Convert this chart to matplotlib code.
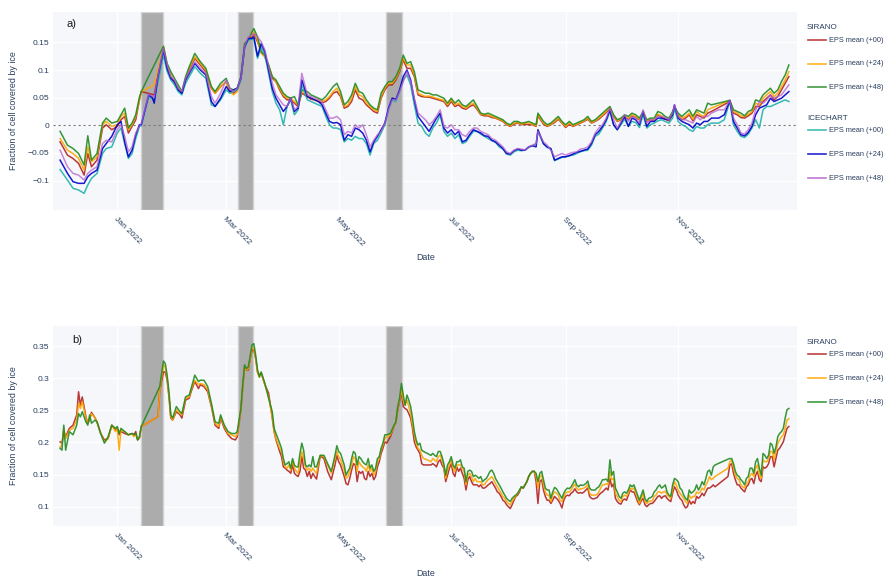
import numpy as np
import matplotlib
matplotlib.use("Agg")
import matplotlib.pyplot as plt
from matplotlib.lines import Line2D

plt.rcParams["font.family"] = ["Liberation Sans", "DejaVu Sans"]

nan = np.nan
BASE = np.datetime64("2022-01-01")

# ---------------- panel a) : days counted from 1 Jan 2022 ----------------
top_days = [
    -31, -27, -24, -21, -18, -16, -14, -11, -8, -6,
    -3, 0, 2, 4, 6, 8, 10, 12, 13, 15,
    17, 19, 20, 22, 25, 27, 29, 31, 33, 35,
    37, 39, 42, 45, 48, 51, 53, 56, 59, 61,
    63, 65, 67, 69, 71, 73, 74, 76, 78, 80,
    82, 84, 86, 88, 90, 92, 94, 96, 98, 100,
    103, 105, 107, 109, 111, 113, 115, 117, 119, 121,
    123, 125, 127, 129, 131, 133, 135, 137, 139, 141,
    143, 145, 147, 149, 151, 153, 155, 157, 159, 161,
    163, 165, 167, 169, 171, 173, 175, 177, 179, 181,
    183, 185, 187, 189, 191, 193, 195, 197, 199, 201,
    203, 205, 207, 209, 211, 213, 215, 217, 219, 221,
    223, 225, 227, 228, 231, 233, 235, 237, 239, 241,
    243, 245, 247, 249, 251, 253, 255, 257, 259, 261,
    263, 265, 267, 269, 271, 273, 275, 277, 279, 281,
    283, 285, 287, 289, 291, 293, 295, 297, 299, 301,
    302, 304, 306, 308, 310, 312, 314, 316, 318, 320,
    322, 326, 329, 332, 334, 336, 338, 340, 342, 344,
    346, 348, 350, 352, 354, 356, 358, 360, 362, 364,
]

sirano_a48 = [
    -0.011, -0.036, -0.042, -0.051, -0.072, -0.019, -0.063, -0.051, 0.004, 0.013,
    0.004, 0.007, 0.019, 0.031, -0.005, 0.004, 0.019, 0.051, 0.061, nan,
    nan, nan, nan, nan, 0.143, 0.112, 0.097, 0.085, 0.073, 0.061,
    0.088, 0.106, 0.130, 0.115, 0.103, 0.070, 0.061, 0.076, 0.085, 0.067,
    0.064, 0.067, 0.088, 0.148, 0.154, 0.169, 0.175, 0.160, 0.133, 0.127,
    0.109, 0.088, 0.082, 0.070, 0.058, 0.052, 0.049, 0.052, 0.037, 0.064,
    0.061, 0.055, 0.052, 0.049, 0.046, 0.052, 0.061, 0.070, 0.076, 0.061,
    0.037, 0.043, 0.055, 0.076, 0.061, 0.058, 0.046, 0.037, 0.031, 0.028,
    0.058, 0.070, 0.079, 0.079, 0.088, 0.103, 0.127, 0.112, 0.115, 0.097,
    0.064, 0.061, 0.058, 0.058, 0.055, 0.055, 0.052, 0.049, 0.040, 0.049,
    0.040, 0.046, 0.037, 0.034, 0.040, 0.046, 0.034, 0.022, 0.020, 0.022,
    0.019, 0.016, 0.013, 0.010, 0.004, 0.001, 0.007, 0.007, 0.004, 0.005,
    0.007, 0.004, 0.001, 0.022, 0.007, 0.001, 0.004, 0.010, 0.016, 0.007,
    0.001, 0.007, 0.001, 0.004, 0.007, 0.010, 0.016, 0.007, 0.010, 0.016,
    0.022, 0.028, 0.034, 0.019, 0.010, 0.013, 0.019, 0.016, 0.022, 0.019,
    0.013, 0.025, 0.010, 0.013, 0.013, 0.025, 0.022, 0.016, 0.013, 0.025,
    0.034, 0.022, 0.016, 0.022, 0.028, 0.016, 0.028, 0.025, 0.022, 0.040,
    0.037, nan, nan, 0.045, 0.028, 0.025, 0.022, 0.017, 0.025, 0.028,
    0.046, 0.043, 0.055, 0.061, 0.067, 0.058, 0.064, 0.079, 0.091, 0.109,
]

sirano_a24 = [
    -0.024, -0.045, -0.051, -0.060, -0.081, -0.039, -0.066, -0.057, 0.001, 0.007,
    -0.002, 0.001, 0.016, 0.022, -0.008, 0.001, 0.016, 0.046, 0.061, nan,
    nan, nan, 0.073, nan, 0.142, 0.109, 0.091, 0.079, 0.067, 0.058,
    0.085, 0.103, 0.124, 0.112, 0.100, 0.067, 0.058, 0.070, 0.079, 0.061,
    0.055, 0.061, 0.085, 0.145, 0.157, 0.163, 0.169, 0.154, 0.130, 0.124,
    0.109, 0.088, 0.079, 0.067, 0.055, 0.049, 0.049, 0.043, 0.037, 0.061,
    0.055, 0.049, 0.046, 0.046, 0.043, 0.046, 0.052, 0.061, 0.067, 0.055,
    0.034, 0.037, 0.049, 0.070, 0.055, 0.052, 0.040, 0.034, 0.028, 0.025,
    0.052, 0.067, 0.076, 0.076, 0.085, 0.100, 0.121, 0.109, 0.109, 0.091,
    0.058, 0.055, 0.052, 0.053, 0.051, 0.049, 0.047, 0.045, 0.037, 0.046,
    0.037, 0.040, 0.034, 0.031, 0.037, 0.040, 0.031, 0.020, 0.019, 0.019,
    0.016, 0.014, 0.011, 0.008, 0.002, -0.001, 0.004, 0.005, 0.002, 0.004,
    0.004, 0.002, -0.001, 0.019, 0.004, -0.001, 0.002, 0.007, 0.013, 0.005,
    -0.002, 0.004, -0.001, 0.002, 0.005, 0.008, 0.013, 0.005, 0.008, 0.013,
    0.019, 0.025, 0.033, 0.017, 0.008, 0.011, 0.017, 0.013, 0.019, 0.016,
    0.011, 0.023, 0.008, 0.011, 0.010, 0.020, 0.017, 0.013, 0.010, 0.022,
    0.031, 0.019, 0.013, 0.016, 0.022, 0.011, 0.025, 0.019, 0.016, 0.028,
    0.031, nan, nan, 0.045, 0.025, 0.022, 0.017, 0.016, 0.020, 0.025,
    0.040, 0.037, 0.049, 0.055, 0.061, 0.052, 0.058, 0.070, 0.082, 0.097,
]

sirano_a00 = [
    -0.030, -0.054, -0.060, -0.069, -0.090, -0.051, -0.075, -0.063, -0.005, 0.001,
    -0.008, -0.002, 0.010, 0.016, -0.014, -0.002, 0.010, 0.046, 0.061, nan,
    nan, nan, 0.055, nan, 0.141, 0.106, 0.089, 0.076, 0.067, 0.058,
    0.082, 0.100, 0.121, 0.109, 0.097, 0.067, 0.058, 0.070, 0.079, 0.061,
    0.058, 0.064, 0.085, 0.142, 0.157, 0.160, 0.166, 0.151, 0.133, 0.124,
    0.106, 0.085, 0.079, 0.064, 0.052, 0.046, 0.046, 0.040, 0.034, 0.058,
    0.052, 0.047, 0.046, 0.043, 0.041, 0.043, 0.049, 0.058, 0.061, 0.052,
    0.031, 0.034, 0.043, 0.064, 0.049, 0.046, 0.037, 0.031, 0.025, 0.022,
    0.049, 0.064, 0.073, 0.073, 0.082, 0.097, 0.118, 0.103, 0.103, 0.088,
    0.055, 0.052, 0.051, 0.051, 0.049, 0.047, 0.045, 0.043, 0.034, 0.043,
    0.034, 0.037, 0.031, 0.029, 0.034, 0.037, 0.029, 0.019, 0.017, 0.017,
    0.014, 0.013, 0.010, 0.007, 0.001, -0.002, 0.002, 0.004, 0.001, 0.002,
    0.001, 0.001, -0.002, 0.017, 0.002, -0.002, 0.001, 0.005, 0.011, 0.004,
    -0.004, 0.002, -0.002, 0.001, 0.004, 0.007, 0.011, 0.004, 0.007, 0.011,
    0.017, 0.023, 0.031, 0.016, 0.007, 0.010, 0.014, 0.011, 0.017, 0.014,
    0.010, 0.022, 0.007, 0.010, 0.008, 0.019, 0.014, 0.011, 0.008, 0.019,
    0.029, 0.017, 0.010, 0.013, 0.019, 0.008, 0.019, 0.016, 0.013, 0.022,
    0.025, nan, nan, 0.043, 0.022, 0.019, 0.014, 0.013, 0.017, 0.022,
    0.034, 0.034, 0.043, 0.049, 0.055, 0.046, 0.052, 0.064, 0.076, 0.088,
]

icechart_a48 = [
    -0.045, -0.075, -0.087, -0.090, -0.099, -0.087, -0.081, -0.075, -0.033, -0.027,
    -0.030, -0.008, 0.001, -0.020, -0.048, -0.039, -0.014, -0.002, 0.003, 0.030,
    0.056, 0.053, 0.050, 0.090, 0.139, 0.109, 0.088, 0.082, 0.067, 0.061,
    0.085, 0.097, 0.115, 0.103, 0.094, 0.052, 0.040, 0.058, 0.082, 0.067,
    0.061, 0.067, 0.085, 0.143, 0.160, 0.163, 0.166, 0.160, 0.151, 0.136,
    0.106, 0.076, 0.055, 0.046, 0.037, 0.034, 0.049, 0.028, 0.034, 0.094,
    0.055, 0.052, 0.049, 0.046, 0.043, 0.028, 0.013, 0.013, 0.016, 0.010,
    -0.017, -0.011, -0.014, 0.001, -0.005, 0.001, -0.017, -0.039, -0.027, -0.017,
    -0.011, 0.004, 0.028, 0.046, 0.046, 0.061, 0.079, 0.097, 0.079, 0.049,
    0.022, 0.016, 0.010, 0.001, 0.007, 0.016, 0.028, -0.002, -0.005, 0.001,
    -0.008, -0.008, -0.017, -0.020, -0.011, -0.005, -0.005, -0.011, -0.014, -0.017,
    -0.024, -0.027, -0.033, -0.039, -0.048, -0.051, -0.045, -0.042, -0.043, -0.045,
    -0.039, -0.036, -0.033, -0.011, -0.030, -0.036, -0.045, -0.057, -0.054, -0.051,
    -0.054, -0.051, -0.049, -0.048, -0.043, -0.042, -0.039, -0.030, -0.014, -0.005,
    0.001, 0.013, 0.031, 0.010, -0.005, 0.007, 0.019, 0.007, 0.016, 0.013,
    0.004, 0.028, 0.004, 0.010, 0.010, 0.016, 0.016, 0.014, 0.010, 0.022,
    0.037, 0.016, 0.010, 0.010, 0.007, 0.004, 0.016, 0.010, 0.016, 0.016,
    0.022, 0.028, 0.028, 0.045, 0.013, 0.001, -0.014, -0.016, -0.008, 0.004,
    0.028, 0.043, 0.040, 0.046, 0.055, 0.049, 0.052, 0.055, 0.064, 0.073,
]

icechart_a24 = [
    -0.063, -0.087, -0.102, -0.105, -0.105, -0.093, -0.087, -0.081, -0.042, -0.033,
    -0.020, 0.001, 0.007, -0.030, -0.057, -0.045, -0.017, 0.001, 0.001, 0.028,
    0.055, 0.050, 0.040, 0.088, 0.136, 0.103, 0.085, 0.079, 0.064, 0.058,
    0.082, 0.094, 0.112, 0.100, 0.091, 0.043, 0.034, 0.049, 0.070, 0.061,
    0.064, 0.067, 0.085, 0.142, 0.157, 0.157, 0.160, 0.125, 0.148, 0.133,
    0.100, 0.067, 0.049, 0.037, 0.025, 0.034, 0.049, 0.025, 0.031, 0.082,
    0.052, 0.049, 0.046, 0.043, 0.037, 0.022, 0.007, 0.004, 0.005, 0.001,
    -0.027, -0.017, -0.020, -0.005, -0.008, -0.014, -0.027, -0.048, -0.030, -0.020,
    -0.008, 0.004, 0.031, 0.049, 0.047, 0.064, 0.088, 0.100, 0.082, 0.046,
    0.016, 0.007, -0.002, -0.011, 0.001, 0.013, 0.022, -0.005, -0.014, -0.008,
    -0.017, -0.011, -0.030, -0.027, -0.017, -0.008, -0.011, -0.014, -0.019, -0.020,
    -0.027, -0.030, -0.036, -0.042, -0.051, -0.052, -0.046, -0.043, -0.045, -0.045,
    -0.039, -0.037, -0.039, -0.008, -0.033, -0.039, -0.042, -0.063, -0.060, -0.057,
    -0.057, -0.055, -0.052, -0.049, -0.047, -0.045, -0.043, -0.033, -0.017, -0.011,
    -0.002, 0.010, 0.028, 0.001, -0.008, 0.004, 0.016, -0.002, 0.013, 0.010,
    0.001, 0.025, -0.002, 0.007, 0.007, 0.013, 0.013, 0.011, 0.010, 0.019,
    0.037, 0.013, 0.007, 0.004, 0.001, -0.005, 0.004, 0.001, 0.007, 0.007,
    0.013, 0.013, 0.019, 0.045, 0.007, -0.005, -0.017, -0.019, -0.013, -0.002,
    0.019, 0.031, 0.034, 0.037, 0.049, 0.043, 0.046, 0.049, 0.055, 0.061,
]

icechart_a00 = [
    -0.080, -0.099, -0.114, -0.117, -0.123, -0.108, -0.096, -0.087, -0.051, -0.042,
    -0.039, -0.014, -0.005, -0.033, -0.060, -0.051, -0.024, -0.002, -0.001, 0.025,
    0.052, 0.048, 0.045, 0.078, 0.127, 0.097, 0.082, 0.073, 0.061, 0.055,
    0.076, 0.088, 0.106, 0.094, 0.085, 0.037, 0.034, 0.046, 0.064, 0.058,
    0.061, 0.064, 0.082, 0.141, 0.154, 0.156, 0.157, 0.121, 0.142, 0.127,
    0.094, 0.061, 0.040, 0.028, 0.001, 0.034, 0.046, 0.019, 0.028, 0.073,
    0.046, 0.043, 0.040, 0.037, 0.034, 0.016, 0.001, -0.005, -0.005, -0.008,
    -0.030, -0.024, -0.027, -0.020, -0.024, -0.024, -0.033, -0.054, -0.033, -0.027,
    -0.014, 0.001, 0.028, 0.046, 0.043, 0.061, 0.082, 0.091, 0.073, 0.037,
    0.004, -0.002, -0.014, -0.020, -0.005, 0.004, 0.019, -0.011, -0.020, -0.014,
    -0.024, -0.017, -0.033, -0.030, -0.020, -0.011, -0.011, -0.016, -0.020, -0.024,
    -0.028, -0.031, -0.039, -0.043, -0.052, -0.054, -0.048, -0.045, -0.046, -0.045,
    -0.040, -0.037, -0.033, -0.011, -0.034, -0.040, -0.043, -0.064, -0.061, -0.058,
    -0.057, -0.055, -0.054, -0.051, -0.048, -0.046, -0.045, -0.036, -0.020, -0.016,
    -0.005, 0.007, 0.025, 0.001, -0.008, 0.001, 0.011, -0.002, 0.007, 0.005,
    -0.004, 0.019, -0.005, 0.001, 0.004, 0.008, 0.010, 0.007, 0.004, 0.013,
    0.031, 0.007, 0.001, -0.002, -0.008, -0.011, -0.002, -0.005, -0.005, 0.001,
    0.004, 0.004, 0.010, 0.043, 0.001, -0.011, -0.020, -0.022, -0.016, -0.005,
    0.010, -0.005, 0.028, 0.034, 0.034, 0.037, 0.040, 0.043, 0.046, 0.043,
]

# ---------------- panel b) ----------------
bottom_days = ([-31, -30, -29, -28, -26, -24, -22, -21, -20, -19, -17, -16, -15, -14,
                -12, -11, -9, -7, -5, -3, -1, 0, 1, 2, 4, 6, 8, 9, 10, 11, 12, 13]
               + [22, 23]
               + [25, 26, 27, 28, 29, 30, 32, 34, 35, 37, 39, 40, 42, 44, 45, 47, 49,
                  51, 53, 55, 56, 58, 60, 62, 64, 65]
               + list(range(67, 79))
               + [80, 82, 84, 85, 86]
               + list(range(88, 109))
               + [110, 112, 114, 116, 118]
               + [119, 120, 121]
               + list(range(123, 147))
               + [148, 150]
               + list(range(151, 167))
               + [168]
               + list(range(170, 325))
               + list(range(331, 365)))

sirano_b48 = [
    0.191, 0.188, 0.227, 0.188, 0.217, 0.212, 0.227, 0.245, 0.240, 0.248, 0.232, 0.227, 0.243, 0.230,
    0.235, 0.232, 0.214, 0.199, 0.209, 0.227, 0.222, 0.225, 0.214, 0.222, 0.217, 0.212, 0.214, 0.212,
    0.214, 0.204, 0.209, 0.225,
    nan, 0.287,
    0.327, 0.323, 0.305, 0.279, 0.243, 0.238, 0.256, 0.248, 0.245, 0.271, 0.274, 0.284, 0.305, 0.295,
    0.297, 0.297, 0.287, 0.261, 0.232, 0.230, 0.243, 0.227, 0.217, 0.214, 0.214, 0.217,
    0.253, 0.290, 0.321, 0.315, 0.318, 0.334, 0.352, 0.354, 0.336, 0.313, 0.302, 0.310,
    0.292, 0.269, 0.248, 0.222, 0.214,
    0.199, 0.191, 0.175, 0.165, 0.167, 0.170, 0.160, 0.175, 0.165, 0.162, 0.162, 0.183, 0.199, 0.188,
    0.165, 0.162, 0.165, 0.162, 0.178, 0.162, 0.162,
    0.180, 0.180, 0.167, 0.155, 0.180,
    0.195, 0.186, 0.183,
    0.165, 0.149, 0.155, 0.160, 0.175, 0.186, 0.183, 0.165, 0.178, 0.175, 0.170, 0.167, 0.165, 0.175,
    0.160, 0.165, 0.155, 0.160, 0.175, 0.178, 0.191, 0.199, 0.212, 0.212,
    0.214, 0.227,
    0.232, 0.256, 0.269, 0.292, 0.274, 0.258, 0.274, 0.266, 0.256, 0.238, 0.217, 0.204, 0.196, 0.199,
    0.188, 0.186,
    0.183,
    0.180, 0.183, 0.180, 0.178, 0.186, 0.186, 0.178, 0.167, 0.149, 0.165,
    0.170, 0.178, 0.165, 0.160, 0.170, 0.170, 0.173, 0.162, 0.160, 0.139,
    0.155, 0.157, 0.155, 0.147, 0.149, 0.147, 0.144, 0.147, 0.139, 0.142,
    0.144, 0.149, 0.155, 0.157, 0.152, 0.144, 0.139, 0.134, 0.129, 0.123,
    0.118, 0.113, 0.110, 0.108, 0.113, 0.116, 0.118, 0.121, 0.126, 0.131,
    0.129, 0.134, 0.139, 0.147, 0.152, 0.155, 0.155, 0.152, 0.139, 0.152,
    0.155, 0.142, 0.129, 0.126, 0.126, 0.113, 0.123, 0.130, 0.128, 0.123,
    0.118, 0.113, 0.121, 0.126, 0.129, 0.128, 0.131, 0.136, 0.142, 0.134,
    0.131, 0.134, 0.133, 0.134, 0.136, 0.140, 0.129, 0.126, 0.126, 0.126,
    0.129, 0.131, 0.136, 0.142, 0.142, 0.143, 0.139, 0.173, 0.149, 0.155,
    0.129, 0.123, 0.116, 0.113, 0.121, 0.123, 0.121, 0.126, 0.134, 0.131,
    0.134, 0.126, 0.118, 0.110, 0.118, 0.126, 0.113, 0.108, 0.113, 0.114,
    0.116, 0.123, 0.126, 0.131, 0.134, 0.129, 0.131, 0.134, 0.123, 0.118,
    0.116, 0.134, 0.144, 0.142, 0.139, 0.129, 0.126, 0.118, 0.113, 0.110,
    0.126, 0.121, 0.123, 0.126, 0.134, 0.126, 0.131, 0.139, 0.134, 0.144,
    0.155, 0.157, 0.149, 0.162, 0.165,
    0.174, 0.175, 0.175, 0.167, 0.155, 0.149, 0.147, 0.142, 0.139, 0.134,
    0.144, 0.147, 0.160, 0.160, 0.152, 0.170, 0.175, 0.160, 0.149, 0.183,
    0.180, 0.175, 0.180, 0.199, 0.196, 0.183, 0.193, 0.209, 0.214, 0.217,
    0.222, 0.238, 0.251, 0.253,
]

sirano_b24 = [
    0.193, 0.196, 0.222, 0.206, 0.219, 0.222, 0.235, 0.261, 0.253, 0.264, 0.238, 0.230, 0.238, 0.245,
    0.238, 0.232, 0.214, 0.201, 0.206, 0.227, 0.217, 0.222, 0.188, 0.219, 0.217, 0.212, 0.213, 0.209,
    0.213, 0.206, 0.207, 0.225,
    0.240, 0.280,
    0.321, 0.318, 0.300, 0.274, 0.240, 0.235, 0.251, 0.245, 0.243, 0.269, 0.271, 0.282, 0.297, 0.290,
    0.292, 0.290, 0.282, 0.258, 0.230, 0.225, 0.240, 0.225, 0.214, 0.212, 0.209, 0.212,
    0.251, 0.287, 0.318, 0.313, 0.315, 0.331, 0.347, 0.347, 0.331, 0.308, 0.302, 0.308,
    0.290, 0.271, 0.240, 0.217, 0.206,
    0.191, 0.186, 0.170, 0.162, 0.160, 0.165, 0.157, 0.173, 0.160, 0.155, 0.152, 0.170, 0.186, 0.175,
    0.162, 0.157, 0.160, 0.155, 0.160, 0.155, 0.152,
    0.180, 0.178, 0.165, 0.152, 0.175,
    0.186, 0.178, 0.173,
    0.157, 0.144, 0.147, 0.155, 0.165, 0.178, 0.175, 0.155, 0.170, 0.165, 0.162, 0.160, 0.155, 0.165,
    0.155, 0.160, 0.149, 0.155, 0.170, 0.175, 0.188, 0.196, 0.206, 0.209,
    0.212, 0.225,
    0.232, 0.253, 0.266, 0.282, 0.266, 0.258, 0.266, 0.256, 0.245, 0.227, 0.212, 0.199, 0.191, 0.188,
    0.180, 0.175,
    0.173,
    0.170, 0.175, 0.173, 0.170, 0.178, 0.180, 0.173, 0.162, 0.144, 0.157,
    0.165, 0.173, 0.160, 0.155, 0.165, 0.165, 0.165, 0.160, 0.155, 0.134,
    0.149, 0.152, 0.147, 0.139, 0.144, 0.139, 0.139, 0.139, 0.134, 0.134,
    0.139, 0.142, 0.144, 0.147, 0.142, 0.136, 0.131, 0.126, 0.121, 0.116,
    0.113, 0.108, 0.105, 0.103, 0.108, 0.113, 0.117, 0.120, 0.125, 0.131,
    0.129, 0.134, 0.139, 0.147, 0.152, 0.155, 0.155, 0.147, 0.129, 0.147,
    0.149, 0.134, 0.123, 0.118, 0.118, 0.108, 0.118, 0.123, 0.121, 0.118,
    0.110, 0.108, 0.116, 0.121, 0.123, 0.123, 0.126, 0.131, 0.135, 0.129,
    0.126, 0.128, 0.128, 0.129, 0.131, 0.134, 0.121, 0.118, 0.118, 0.118,
    0.119, 0.123, 0.129, 0.134, 0.134, 0.136, 0.134, 0.155, 0.142, 0.144,
    0.121, 0.116, 0.110, 0.108, 0.116, 0.118, 0.116, 0.121, 0.129, 0.127,
    0.129, 0.121, 0.113, 0.105, 0.113, 0.121, 0.108, 0.105, 0.108, 0.109,
    0.109, 0.116, 0.118, 0.123, 0.123, 0.121, 0.123, 0.124, 0.118, 0.116,
    0.113, 0.126, 0.139, 0.134, 0.126, 0.121, 0.117, 0.113, 0.108, 0.105,
    0.118, 0.113, 0.116, 0.116, 0.123, 0.121, 0.123, 0.129, 0.126, 0.134,
    0.139, 0.147, 0.142, 0.144, 0.147,
    0.160, 0.170, 0.173, 0.160, 0.149, 0.144, 0.142, 0.134, 0.131, 0.129,
    0.136, 0.139, 0.149, 0.152, 0.147, 0.160, 0.165, 0.149, 0.144, 0.173,
    0.170, 0.170, 0.175, 0.186, 0.186, 0.173, 0.186, 0.199, 0.204, 0.209,
    0.212, 0.222, 0.235, 0.237,
]

sirano_b00 = [
    0.201, 0.199, 0.217, 0.209, 0.222, 0.227, 0.243, 0.279, 0.258, 0.271, 0.240, 0.230, 0.235, 0.247,
    0.238, 0.232, 0.214, 0.204, 0.206, 0.227, 0.219, 0.222, 0.212, 0.217, 0.214, 0.212, 0.214, 0.212,
    0.217, 0.204, 0.207, 0.225,
    0.240, 0.280,
    0.310, 0.310, 0.297, 0.271, 0.238, 0.235, 0.248, 0.243, 0.238, 0.266, 0.269, 0.279, 0.295, 0.284,
    0.290, 0.287, 0.279, 0.256, 0.227, 0.222, 0.238, 0.222, 0.212, 0.206, 0.204, 0.209,
    0.251, 0.287, 0.318, 0.313, 0.313, 0.331, 0.344, 0.344, 0.331, 0.310, 0.305, 0.308,
    0.290, 0.277, 0.238, 0.217, 0.204,
    0.186, 0.178, 0.162, 0.160, 0.157, 0.155, 0.152, 0.165, 0.152, 0.149, 0.147, 0.155, 0.178, 0.160,
    0.157, 0.147, 0.155, 0.144, 0.152, 0.147, 0.143,
    0.179, 0.175, 0.155, 0.142, 0.165,
    0.180, 0.170, 0.165,
    0.147, 0.136, 0.134, 0.144, 0.157, 0.167, 0.165, 0.139, 0.155, 0.152, 0.155, 0.144, 0.142, 0.155,
    0.147, 0.152, 0.142, 0.147, 0.162, 0.170, 0.183, 0.191, 0.201, 0.199,
    0.209, 0.225,
    0.232, 0.251, 0.264, 0.279, 0.256, 0.253, 0.251, 0.245, 0.238, 0.222, 0.201, 0.193, 0.188, 0.183,
    0.167, 0.165,
    0.165,
    0.165, 0.167, 0.165, 0.162, 0.170, 0.173, 0.165, 0.160, 0.139, 0.149,
    0.160, 0.167, 0.152, 0.147, 0.162, 0.155, 0.160, 0.152, 0.144, 0.126,
    0.142, 0.147, 0.139, 0.134, 0.134, 0.134, 0.131, 0.134, 0.129, 0.129,
    0.131, 0.134, 0.136, 0.139, 0.134, 0.129, 0.123, 0.121, 0.116, 0.110,
    0.108, 0.103, 0.100, 0.097, 0.103, 0.110, 0.116, 0.118, 0.123, 0.131,
    0.129, 0.134, 0.139, 0.147, 0.152, 0.155, 0.155, 0.139, 0.105, 0.139,
    0.142, 0.126, 0.116, 0.110, 0.110, 0.105, 0.110, 0.116, 0.113, 0.110,
    0.105, 0.098, 0.110, 0.116, 0.118, 0.117, 0.121, 0.123, 0.128, 0.123,
    0.121, 0.122, 0.121, 0.123, 0.126, 0.129, 0.116, 0.113, 0.112, 0.113,
    0.114, 0.118, 0.121, 0.123, 0.126, 0.129, 0.126, 0.144, 0.131, 0.136,
    0.113, 0.108, 0.105, 0.104, 0.110, 0.112, 0.110, 0.118, 0.126, 0.123,
    0.123, 0.116, 0.108, 0.103, 0.109, 0.113, 0.103, 0.100, 0.103, 0.105,
    0.105, 0.108, 0.112, 0.116, 0.117, 0.113, 0.116, 0.117, 0.113, 0.110,
    0.108, 0.121, 0.131, 0.126, 0.118, 0.113, 0.110, 0.103, 0.098, 0.100,
    0.110, 0.104, 0.108, 0.105, 0.116, 0.113, 0.116, 0.121, 0.117, 0.123,
    0.129, 0.129, 0.131, 0.134, 0.131,
    0.147, 0.165, 0.167, 0.152, 0.142, 0.134, 0.134, 0.129, 0.126, 0.123,
    0.131, 0.134, 0.142, 0.144, 0.136, 0.149, 0.155, 0.142, 0.139, 0.162,
    0.160, 0.162, 0.167, 0.178, 0.178, 0.162, 0.175, 0.188, 0.191, 0.196,
    0.201, 0.212, 0.222, 0.225,
]

for s in (sirano_a48, sirano_a24, sirano_a00, icechart_a48, icechart_a24, icechart_a00):
    assert len(s) == len(top_days)
for s in (sirano_b48, sirano_b24, sirano_b00):
    assert len(s) == len(bottom_days)

# periods without SIRANO analysis (shaded)
gap_periods = [("2022-01-13T19", "2022-01-25T19"),
               ("2022-03-07T14", "2022-03-15T17"),
               ("2022-05-26T14", "2022-06-04T12")]

tick_dates = ["2022-01-01", "2022-03-01", "2022-05-01", "2022-07-01", "2022-09-01", "2022-11-01"]
tick_labels = ["Jan 2022", "Mar 2022", "May 2022", "Jul 2022", "Sep 2022", "Nov 2022"]

lead_labels = ["EPS mean (+00)", "EPS mean (+24)", "EPS mean (+48)"]
sirano_colors = ["#b22222", "#ffa500", "#228b22"]
icechart_colors = ["#20b2aa", "#0000cd", "#b660cd"]

TXT = "#2a3f5f"
BG = "#f5f7fa"
W, H = 887, 577


def days_to_dates(days):
    return BASE + np.array(days, dtype=int).astype("timedelta64[D]")


def draw_series(ax, dates, vals, color, alpha=0.9):
    v = np.asarray(vals, dtype=float)
    ok = ~np.isnan(v)
    ax.plot(dates[ok], v[ok], color=color, lw=1.1, alpha=alpha, zorder=3,
            solid_joinstyle="round")


def style_axes(ax, yticks, ylabels, ylim):
    ax.set_facecolor(BG)
    for sp in ax.spines.values():
        sp.set_visible(False)
    ax.set_xlim(BASE + np.timedelta64(-830, "h"), BASE + np.timedelta64(8842, "h"))
    ax.set_ylim(*ylim)
    ax.set_xticks([np.datetime64(d) for d in tick_dates])
    ax.set_xticklabels(tick_labels)
    ax.set_yticks(yticks)
    ax.set_yticklabels(ylabels)
    ax.tick_params(length=0, labelsize=6.1, colors=TXT)
    ax.tick_params(axis="y", pad=3)
    ax.tick_params(axis="x", pad=4)
    for lbl in ax.get_xticklabels():
        lbl.set_rotation(-45)
        lbl.set_ha("left")
        lbl.set_va("top")
        lbl.set_rotation_mode("anchor")
    ax.grid(True, color="white", lw=0.9)
    ax.set_axisbelow(True)
    for a, b in gap_periods:
        ax.axvspan(np.datetime64(a), np.datetime64(b), facecolor="#acacac",
                   edgecolor="#d2d2d2", lw=1.0, zorder=1)


fig = plt.figure(figsize=(W / 100, H / 100), dpi=100)

# ---- panel a) ----
ax1 = fig.add_axes([53.5 / W, 1 - 210 / H, 743.5 / W, 198 / H])
style_axes(ax1, [-0.1, -0.05, 0, 0.05, 0.1, 0.15],
           ["\u22120.1", "\u22120.05", "0", "0.05", "0.1", "0.15"], (-0.1532, 0.2049))
ax1.axhline(0, color="#7a7a7a", lw=0.8, ls=(0, (2, 2.5)), zorder=2)
td = days_to_dates(top_days)
for vals, c in zip((sirano_a00, sirano_a24, sirano_a48), sirano_colors):
    draw_series(ax1, td, vals, c)
for vals, c, al in zip((icechart_a00, icechart_a24, icechart_a48), icechart_colors, (0.9, 0.9, 0.75)):
    draw_series(ax1, td, vals, c, al)

# ---- panel b) ----
ax2 = fig.add_axes([53.5 / W, 1 - 526 / H, 743.5 / W, 200 / H])
style_axes(ax2, [0.1, 0.15, 0.2, 0.25, 0.3, 0.35],
           ["0.1", "0.15", "0.2", "0.25", "0.3", "0.35"], (0.0699, 0.3815))
bd = days_to_dates(bottom_days)
for vals, c in zip((sirano_b00, sirano_b24, sirano_b48), sirano_colors):
    draw_series(ax2, bd, vals, c)

# ---- titles and panel tags ----
for yc in (258, 573):
    fig.text(425.5 / W, 1 - yc / H, "Date", ha="center", va="center", fontsize=6.4, color=TXT)
for yc in (111, 426):
    fig.text(14 / W, 1 - yc / H, "Fraction of cell covered by ice", rotation=90,
             ha="center", va="center", fontsize=6.4, color=TXT)
fig.text(67 / W, 1 - 24 / H, "a)", ha="left", va="center", fontsize=8, color="#1a1a1a")
fig.text(72 / W, 1 - 340 / H, "b)", ha="left", va="center", fontsize=8, color="#1a1a1a")


# ---- grouped legends ----
def legend_group(title, title_y, rows_y, colors):
    fig.text(807 / W, 1 - title_y / H, title, ha="left", va="center", fontsize=5.8, color=TXT)
    for y, c, lab in zip(rows_y, colors, lead_labels):
        fig.add_artist(Line2D([808 / W, 826 / W], [1 - y / H, 1 - y / H],
                              transform=fig.transFigure, color=c, lw=1.2, alpha=0.85))
        fig.text(829 / W, 1 - y / H, lab, ha="left", va="center", fontsize=5.3, color=TXT)


legend_group("SIRANO", 27.5, (40, 63.5, 87), sirano_colors)
legend_group("ICECHART", 118, (130, 154, 178), icechart_colors)
legend_group("SIRANO", 342, (354, 378, 402), sirano_colors)

fig.savefig("out.png", dpi=100, facecolor="white")
